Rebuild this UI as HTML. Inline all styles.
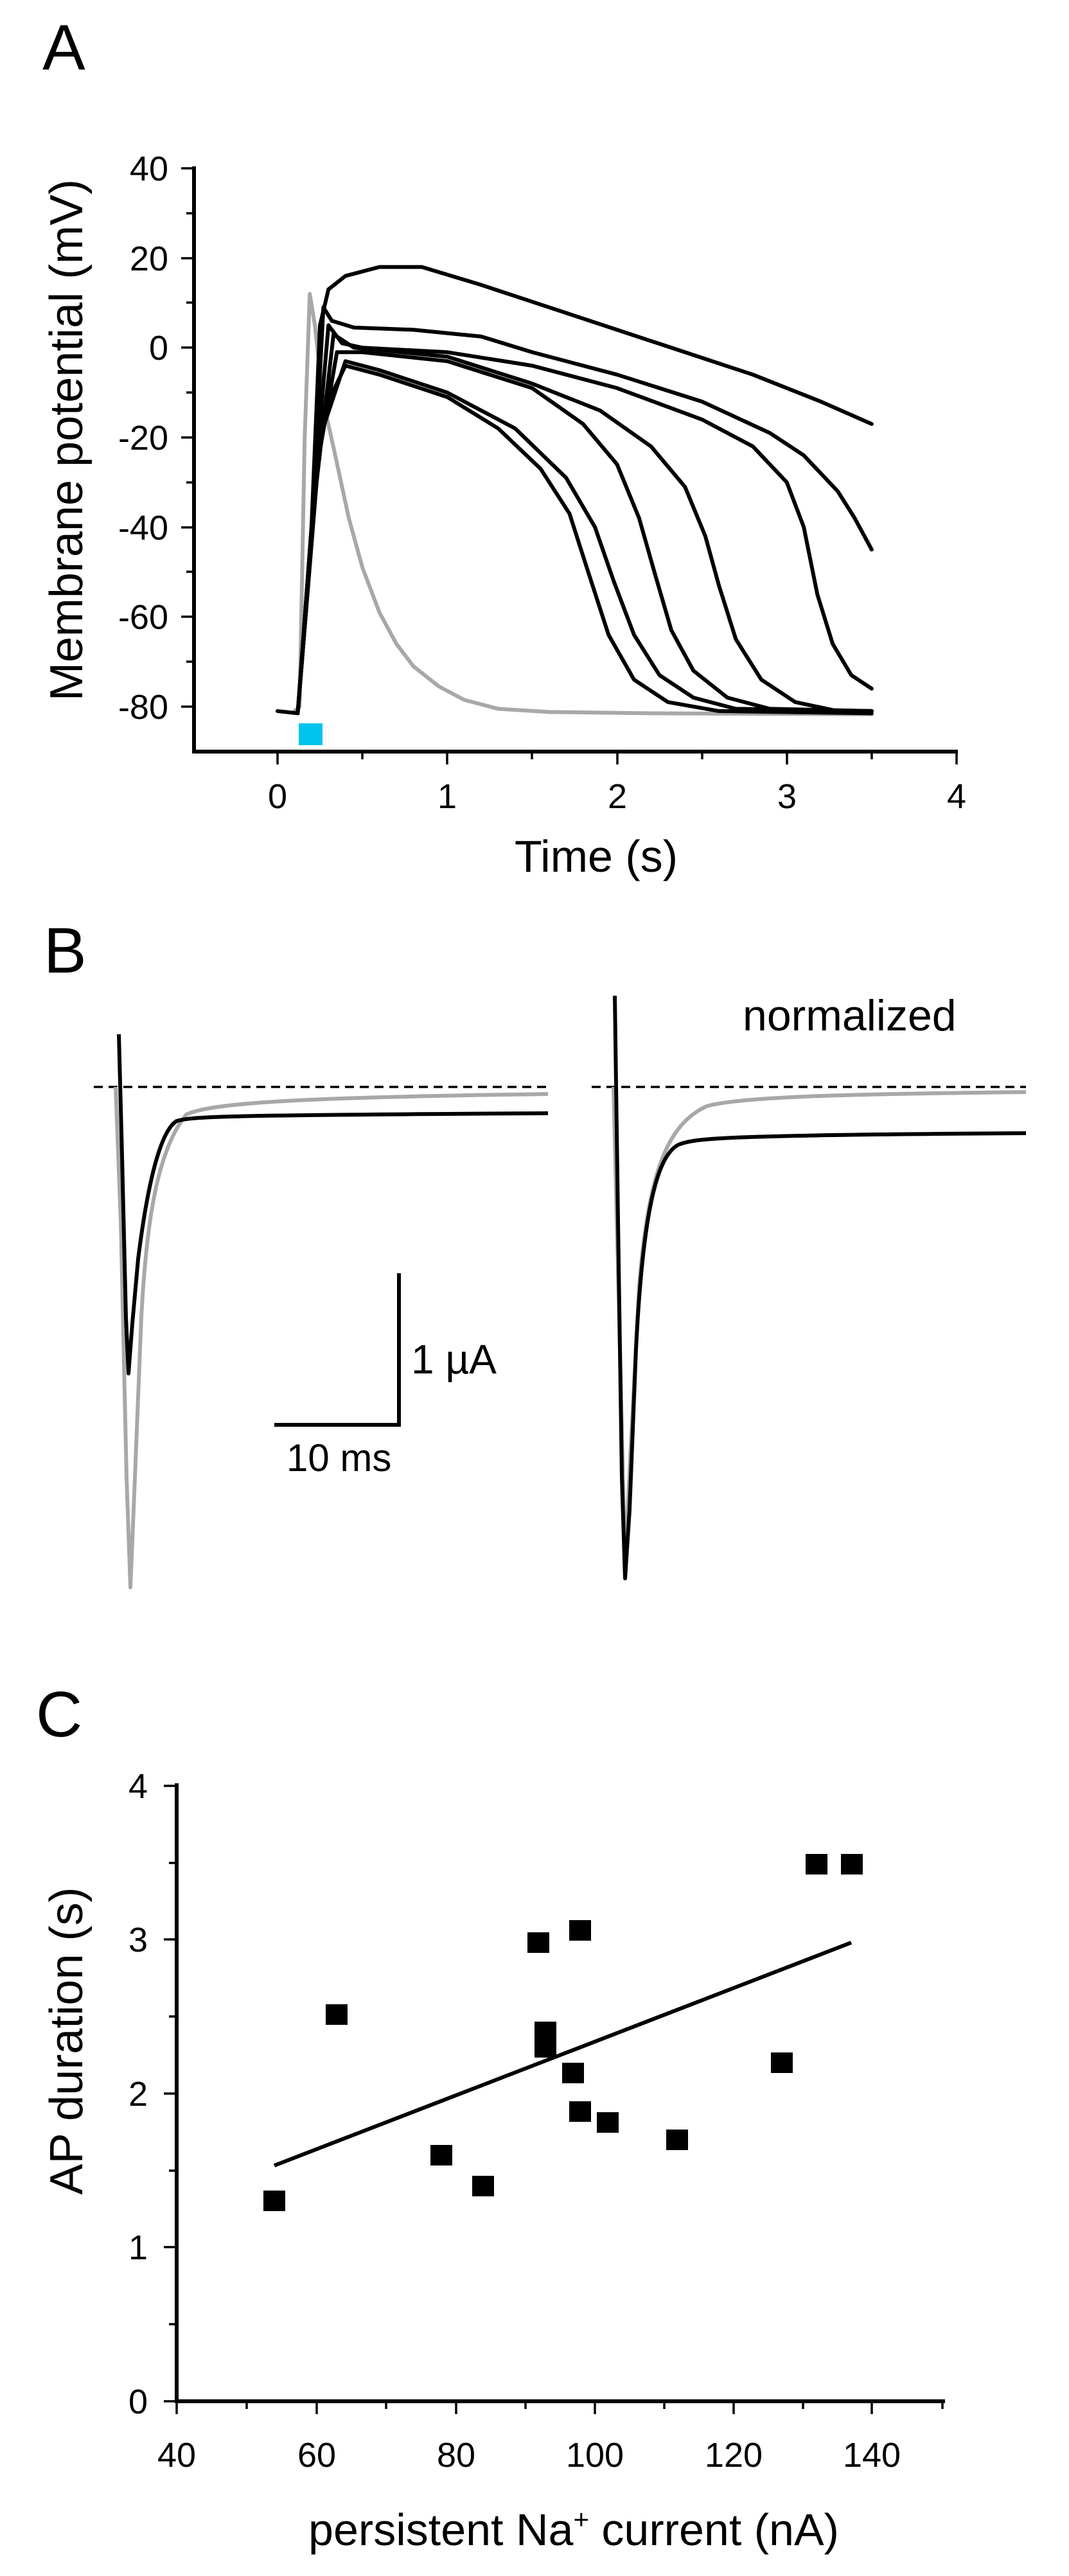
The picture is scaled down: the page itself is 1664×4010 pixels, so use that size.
<!DOCTYPE html>
<html><head><meta charset="utf-8"><style>
html,body{margin:0;padding:0;background:#fff}
svg{display:block}
text{font-family:"Liberation Sans",Arial,sans-serif;fill:#000}
</style></head><body>
<svg width="1664" height="4010" viewBox="0 0 1664 4010" xmlns="http://www.w3.org/2000/svg">
<rect width="1664" height="4010" fill="#fff"/>
<!-- Panel A -->
<text x="66" y="108" font-size="100">A</text>
<g stroke="#000" stroke-width="6" fill="none">
<line x1="302" y1="259" x2="302" y2="1173"/>
<line x1="299" y1="1170" x2="1491" y2="1170"/>
</g>
<g stroke="#000" stroke-width="3.5">
<line x1="282" y1="262" x2="302" y2="262"/><line x1="290" y1="332" x2="302" y2="332"/>
<line x1="282" y1="402" x2="302" y2="402"/><line x1="290" y1="471" x2="302" y2="471"/>
<line x1="282" y1="541" x2="302" y2="541"/><line x1="290" y1="611" x2="302" y2="611"/>
<line x1="282" y1="681" x2="302" y2="681"/><line x1="290" y1="751" x2="302" y2="751"/>
<line x1="282" y1="821" x2="302" y2="821"/><line x1="290" y1="890" x2="302" y2="890"/>
<line x1="282" y1="960" x2="302" y2="960"/><line x1="290" y1="1030" x2="302" y2="1030"/>
<line x1="282" y1="1100" x2="302" y2="1100"/>
<line x1="432" y1="1170" x2="432" y2="1190"/><line x1="564" y1="1170" x2="564" y2="1182"/>
<line x1="696" y1="1170" x2="696" y2="1190"/><line x1="828" y1="1170" x2="828" y2="1182"/>
<line x1="961" y1="1170" x2="961" y2="1190"/><line x1="1093" y1="1170" x2="1093" y2="1182"/>
<line x1="1225" y1="1170" x2="1225" y2="1190"/><line x1="1357" y1="1170" x2="1357" y2="1182"/>
<line x1="1489" y1="1170" x2="1489" y2="1190"/>
</g>
<g font-size="54" text-anchor="end">
<text x="262" y="281">40</text><text x="262" y="421">20</text><text x="262" y="560">0</text>
<text x="262" y="700">-20</text><text x="262" y="840">-40</text>
<text x="262" y="979">-60</text><text x="262" y="1119">-80</text>
</g>
<g font-size="54" text-anchor="middle">
<text x="432" y="1258">0</text><text x="696" y="1258">1</text><text x="961" y="1258">2</text>
<text x="1225" y="1258">3</text><text x="1489" y="1258">4</text>
</g>
<text x="928" y="1357" font-size="70" text-anchor="middle">Time (s)</text>
<text transform="translate(128,685) rotate(-90)" font-size="72" text-anchor="middle">Membrane potential (mV)</text>
<rect x="465" y="1126" width="37" height="34" fill="#00c4ee"/>
<g transform="translate(432,541.3) scale(264.25,-6.983)" fill="none" stroke-linejoin="round" stroke-linecap="round">
<path vector-effect="non-scaling-stroke" stroke="#a8a8a8" stroke-width="6" d="M0.1,-81 L0.13,-80 L0.16,-20 L0.19,12 L0.22,5 L0.27,-12 L0.34,-24 L0.42,-38 L0.5,-49 L0.6,-59 L0.7,-66 L0.8,-71 L0.95,-75.5 L1.1,-78.5 L1.3,-80.5 L1.6,-81.2 L2.2,-81.5 L3.5,-81.7"/>
<g stroke="#000" stroke-width="6">
<path vector-effect="non-scaling-stroke" d="M0,-81 L0.12,-81.5"/>
<path vector-effect="non-scaling-stroke" d="M0.12,-81 L0.2,-40 L0.25,5 L0.3,13 L0.4,16 L0.6,18 L0.85,18 L1.2,14 L1.6,9 L2,4 L2.4,-1 L2.8,-6 L3.2,-12 L3.5,-17"/>
<path vector-effect="non-scaling-stroke" d="M0.12,-81 L0.21,-35 L0.27,9 L0.32,6 L0.45,4.5 L0.8,4 L1.2,2.5 L1.5,-1 L2,-6 L2.5,-12 L2.9,-19 L3.1,-24 L3.3,-32 L3.4,-38 L3.5,-45"/>
<path vector-effect="non-scaling-stroke" d="M0.12,-81 L0.22,-30 L0.3,5 L0.38,1 L0.5,0 L1,-1 L1.5,-4 L2,-9 L2.5,-16 L2.8,-22 L3,-30 L3.1,-40 L3.18,-55 L3.27,-66 L3.38,-73 L3.5,-76"/>
<path vector-effect="non-scaling-stroke" d="M0.12,-81 L0.23,-30 L0.33,3 L0.45,0 L1,-2 L1.5,-8 L1.9,-14 L2.2,-22 L2.4,-31 L2.52,-42 L2.6,-53 L2.7,-65 L2.85,-74 L3.05,-79 L3.3,-81 L3.5,-81"/>
<path vector-effect="non-scaling-stroke" d="M0.12,-81 L0.24,-25 L0.35,-1 L0.5,-1 L1,-3 L1.5,-9 L1.8,-17 L2,-26 L2.13,-38 L2.22,-50 L2.32,-63 L2.45,-72 L2.65,-78 L2.9,-80.5 L3.5,-81"/>
<path vector-effect="non-scaling-stroke" d="M0.12,-81 L0.25,-20 L0.4,-3 L0.6,-5 L1,-10 L1.4,-18 L1.7,-29 L1.87,-40 L1.98,-52 L2.1,-64 L2.25,-73 L2.45,-78 L2.7,-80.5 L3.5,-81"/>
<path vector-effect="non-scaling-stroke" d="M0.12,-81 L0.26,-15 L0.4,-4 L0.6,-6 L1,-11 L1.3,-18 L1.55,-27 L1.72,-37 L1.83,-50 L1.95,-64 L2.1,-74 L2.3,-79 L2.6,-81 L3.5,-81.5"/>
</g>
</g>
<!-- Panel B -->
<text x="68" y="1514" font-size="100">B</text>
<g stroke="#000" stroke-width="3.5" stroke-dasharray="14,9">
<line x1="146" y1="1692" x2="853" y2="1692"/>
<line x1="921" y1="1692" x2="1597" y2="1692"/>
</g>
<g fill="none" stroke-width="6" stroke-linejoin="round">
<path stroke="#a8a8a8" d="M180,1692 L188,1900 L197,2300 L203,2471 L210,2300 L220,2050 C228,1900 245,1790 290,1735 C330,1715 500,1708 853,1703"/>
<path stroke="#000" d="M185,1610 L190,1800 L196,2050 L200,2138 L206,2060 L215,1960 C230,1840 250,1760 275,1745 C300,1738 340,1736 853,1733"/>
<path stroke="#a8a8a8" d="M955,1692 L965,2100 L973,2440 L982,2250 L995,2000 C1010,1820 1040,1750 1100,1722 C1150,1708 1300,1703 1597,1700"/>
<path stroke="#000" d="M957,1550 L962,1900 L968,2300 L973,2457 L980,2350 L990,2100 C1000,1900 1020,1800 1056,1782 C1080,1772 1120,1767 1597,1764"/>
</g>
<g stroke="#000" stroke-width="6" fill="none">
<path d="M621,1982 L621,2218 L427,2218"/>
</g>
<text x="640" y="2138" font-size="64">1 µA</text>
<text x="446" y="2290" font-size="60">10 ms</text>
<text x="1156" y="1604" font-size="68">normalized</text>
<!-- Panel C -->
<text x="56" y="2703" font-size="100">C</text>
<g stroke="#000" stroke-width="6" fill="none">
<line x1="275" y1="2776" x2="275" y2="3741"/>
<line x1="272" y1="3738" x2="1471" y2="3738"/>
</g>
<g stroke="#000" stroke-width="3.5">
<line x1="255" y1="2780" x2="275" y2="2780"/><line x1="263" y1="2900" x2="275" y2="2900"/>
<line x1="255" y1="3019" x2="275" y2="3019"/><line x1="263" y1="3139" x2="275" y2="3139"/>
<line x1="255" y1="3259" x2="275" y2="3259"/><line x1="263" y1="3379" x2="275" y2="3379"/>
<line x1="255" y1="3498" x2="275" y2="3498"/><line x1="263" y1="3618" x2="275" y2="3618"/>
<line x1="255" y1="3738" x2="275" y2="3738"/>
<line x1="275" y1="3738" x2="275" y2="3758"/><line x1="384" y1="3738" x2="384" y2="3750"/>
<line x1="493" y1="3738" x2="493" y2="3758"/><line x1="601" y1="3738" x2="601" y2="3750"/>
<line x1="710" y1="3738" x2="710" y2="3758"/><line x1="818" y1="3738" x2="818" y2="3750"/>
<line x1="926" y1="3738" x2="926" y2="3758"/><line x1="1034" y1="3738" x2="1034" y2="3750"/>
<line x1="1142" y1="3738" x2="1142" y2="3758"/><line x1="1250" y1="3738" x2="1250" y2="3750"/>
<line x1="1357" y1="3738" x2="1357" y2="3758"/><line x1="1467" y1="3738" x2="1467" y2="3750"/>
</g>
<g font-size="54" text-anchor="end">
<text x="230" y="2799">4</text><text x="230" y="3038">3</text><text x="230" y="3278">2</text>
<text x="230" y="3517">1</text><text x="230" y="3757">0</text>
</g>
<g font-size="54" text-anchor="middle">
<text x="275" y="3840">40</text><text x="493" y="3840">60</text><text x="710" y="3840">80</text>
<text x="926" y="3840">100</text><text x="1142" y="3840">120</text><text x="1357" y="3840">140</text>
</g>
<text transform="translate(128,3177) rotate(-90)" font-size="72" text-anchor="middle">AP duration (s)</text>
<text x="893" y="3962" font-size="70" text-anchor="middle">persistent Na<tspan font-size="42" dy="-26">+</tspan><tspan dy="26"> current (nA)</tspan></text>
<line x1="427" y1="3371" x2="1325" y2="3024" stroke="#000" stroke-width="6"/>
<g fill="#000">
<rect x="410" y="3410" width="34" height="32"/>
<rect x="507" y="3120" width="34" height="32"/>
<rect x="670" y="3339" width="34" height="32"/>
<rect x="735" y="3387" width="34" height="32"/>
<rect x="821" y="3008" width="34" height="32"/>
<rect x="832" y="3147" width="34" height="32"/>
<rect x="832" y="3171" width="34" height="32"/>
<rect x="875" y="3211" width="34" height="32"/>
<rect x="886" y="2989" width="34" height="32"/>
<rect x="886" y="3271" width="34" height="32"/>
<rect x="929" y="3288" width="34" height="32"/>
<rect x="1037" y="3315" width="34" height="32"/>
<rect x="1200" y="3195" width="34" height="32"/>
<rect x="1254" y="2886" width="34" height="32"/>
<rect x="1309" y="2886" width="34" height="32"/>
</g>
</svg>
</body></html>
